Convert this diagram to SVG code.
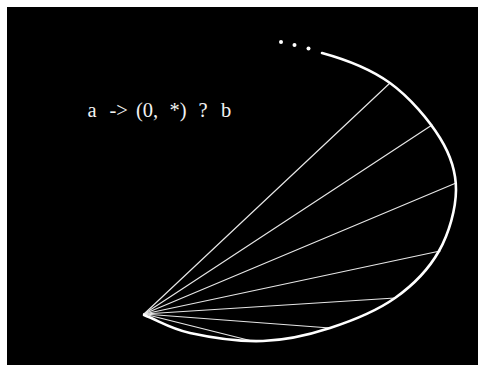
<svg xmlns="http://www.w3.org/2000/svg" width="478" height="365" viewBox="0 0 478 365">
<style>
.spoke{stroke:#e6e6e6;stroke-width:1.2;fill:none;stroke-linecap:round}
.arc{stroke:#fff;stroke-width:2.6;fill:none;stroke-linecap:round}
.lbl{font-family:"Liberation Serif",serif;font-size:20.5px;fill:#f2f2f2}
.dot{fill:#fff}
</style>
<rect x="0" y="0" width="478" height="365" fill="#fff"/>
<rect x="7" y="7" width="471" height="358" fill="#000"/>
<g id="connectors">
<line class="spoke" x1="144" y1="314" x2="390" y2="83"/>
<line class="spoke" x1="144" y1="314" x2="432" y2="125"/>
<line class="spoke" x1="144" y1="314" x2="456" y2="183"/>
<line class="spoke" x1="144" y1="314" x2="440" y2="251"/>
<line class="spoke" x1="144" y1="314" x2="395" y2="298"/>
<line class="spoke" x1="144" y1="314" x2="330" y2="328"/>
<line class="spoke" x1="144" y1="314" x2="252" y2="341"/>
</g>
<g id="arc">
<path class="arc" d="M322,53 C344,59 370.33,68.83 390,83 C409.67,97.17 429,120.17 440,138 C451,155.83 456.17,171.17 456,190 C455.83,208.83 449.17,233 439,251 C428.83,269 413.17,285.17 395,298 C376.83,310.83 352,320.83 330,328 C308,335.17 286.33,340.17 263,341 C239.67,341.83 209.83,337.33 190,333 C170.17,328.67 159.33,321 144,315"/>
</g>
<g id="ellipsis">
<circle class="dot" cx="281" cy="42" r="2"/>
<circle class="dot" cx="294.5" cy="45" r="2"/>
<circle class="dot" cx="308.5" cy="48.5" r="2"/>
</g>
<g id="label">
<text class="lbl" y="117"><tspan x="87.5">a</tspan><tspan x="109.5">-&gt;</tspan><tspan x="136">(0,</tspan><tspan x="169.5">*)</tspan><tspan x="198.5">?</tspan><tspan x="221">b</tspan></text>
</g>
</svg>
